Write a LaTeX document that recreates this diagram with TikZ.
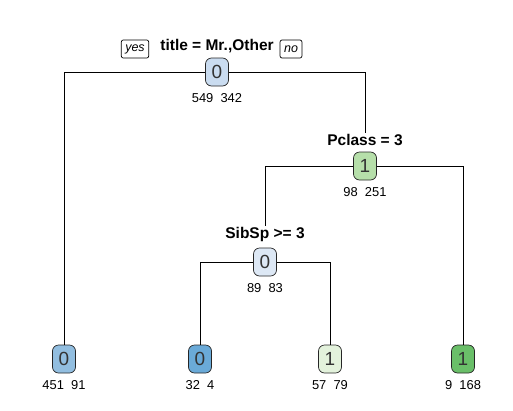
\documentclass[tikz,border=0pt]{standalone}
\usepackage{fontspec}
\setmainfont{Liberation Sans}
\usetikzlibrary{positioning}
\definecolor{blueA}{HTML}{CADCF0}
\definecolor{blueB}{HTML}{DDE8F5}
\definecolor{blueC}{HTML}{92BEE0}
\definecolor{blueD}{HTML}{6AAAD8}
\definecolor{greenA}{HTML}{B6DFAA}
\definecolor{greenB}{HTML}{E3F2DC}
\definecolor{greenC}{HTML}{6ABF69}
\tikzstyle{treenode} = [draw=black!85, rounded corners=6pt, minimum width=23pt, minimum height=28pt, inner sep=0pt, font=\fontsize{19}{22}\selectfont, text=black!80]
\tikzstyle{splitlab} = [inner sep=1pt, font=\bfseries\fontsize{15.5}{18}\selectfont]
\tikzstyle{countlab} = [inner sep=1pt, font=\fontsize{12.9}{15}\selectfont]
\tikzstyle{branchlab} = [draw, rounded corners=2pt, minimum height=18pt, inner xsep=4pt, inner ysep=1pt, font=\itshape\fontsize{12.5}{14}\selectfont]

\begin{document}
\begin{tikzpicture}[x=1pt, y=-1pt, line width=0.7pt]
  \useasboundingbox (0,0) rectangle (513,410);

  \node[treenode, fill=blueA] (root) at (217,72) {0};
  \node[splitlab, above=3pt of root] (root_lab) {title = Mr.,Other};
  \node[countlab, below=6pt of root] (root_n) {549\ \ 342};
  \node[branchlab] (yes) at (135,49) {yes};
  \node[branchlab] (no) at (291,49) {no};

  \node[treenode, fill=greenA] (pclass) at (365,166) {1};
  \node[splitlab, above=5pt of pclass] (pclass_lab) {Pclass = 3};
  \node[countlab, below=6pt of pclass] (pclass_n) {98\ \ 251};

  \node[treenode, fill=blueB] (sibsp) at (265,262) {0};
  \node[splitlab, above=5pt of sibsp] (sibsp_lab) {SibSp >= 3};
  \node[countlab, below=6pt of sibsp] (sibsp_n) {89\ \ 83};

  \node[treenode, fill=blueC] (leaf_a) at (64,359) {0};
  \node[countlab, below=6pt of leaf_a] (leaf_a_n) {451\ \ 91};
  \node[treenode, fill=blueD] (leaf_b) at (200,359) {0};
  \node[countlab, below=6pt of leaf_b] (leaf_b_n) {32\ \ 4};
  \node[treenode, fill=greenB] (leaf_c) at (330,359) {1};
  \node[countlab, below=6pt of leaf_c] (leaf_c_n) {57\ \ 79};
  \node[treenode, fill=greenC] (leaf_d) at (463,359) {1};
  \node[countlab, below=6pt of leaf_d] (leaf_d_n) {9\ \ 168};

  \draw (root.west) -| (leaf_a.north);
  \draw (root.east) -| (pclass_lab.north);
  \draw (pclass.west) -| (sibsp_lab.north);
  \draw (pclass.east) -| (leaf_d.north);
  \draw (sibsp.west) -| (leaf_b.north);
  \draw (sibsp.east) -| (leaf_c.north);
\end{tikzpicture}
\end{document}
